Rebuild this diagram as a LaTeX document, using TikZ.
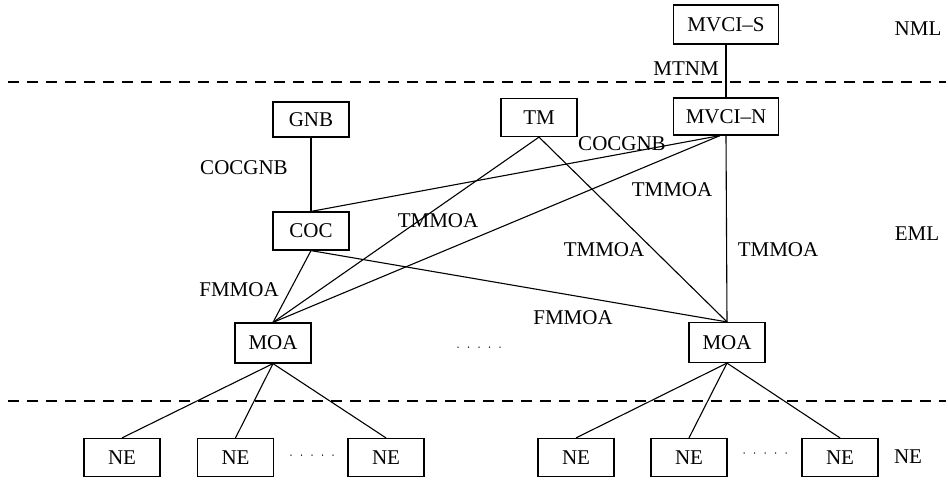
\documentclass[tikz,border=0pt]{standalone}
\usepackage{fontspec}
\setmainfont{Liberation Serif}
\begin{document}
\begin{tikzpicture}[x=1pt,y=-1pt,
  every node/.style={font=\fontsize{21}{24}\selectfont},
  box/.style={draw,line width=1.2pt,minimum width=76pt,minimum height=38pt,inner sep=2pt},
  widebox/.style={box,minimum width=105pt},
  link/.style={line width=1.1pt},
  layer/.style={line width=1.2pt,dash pattern=on 11pt off 8pt},
  dotsep/.style={line width=1.5pt,line cap=round,dash pattern=on 0pt off 10.5pt}]
\useasboundingbox (0,0) rectangle (948,480);

% layer boundaries
\coordinate (l1a) at (8,82);  \coordinate (l1b) at (946,82);
\coordinate (l2a) at (8,401); \coordinate (l2b) at (946,401);
\draw[layer] (l1a) -- (l1b);
\draw[layer] (l2a) -- (l2b);

% layer names
\node (nml) at (918,29) {NML};
\node (eml) at (917,234) {EML};
\node (nel) at (908,457) {NE};

% management nodes
\node[widebox,minimum height=39pt] (mvcis) at (726,24.5) {MVCI–S};
\node[widebox,minimum height=37pt] (mvcin) at (726,116.5) {MVCI–N};
\node[box] (tm) at (539,117.5) {TM};
\node[box,minimum height=35pt] (gnb) at (311,119.5) {GNB};
\node[box] (coc) at (311,231) {COC};
\node[box,minimum height=40pt] (moa1) at (273,343) {MOA};
\node[box,minimum height=40pt] (moa2) at (727,342.5) {MOA};

% network elements
\node[box] (ne1) at (122,457.5) {NE};
\node[box] (ne2) at (235.5,457.5) {NE};
\node[box] (ne3) at (386,457.5) {NE};
\node[box] (ne4) at (576,457.5) {NE};
\node[box] (ne5) at (689,457.5) {NE};
\node[box] (ne6) at (840,457.5) {NE};

% ellipses
\coordinate (d1a) at (458,347); \coordinate (d1b) at (501,347);
\coordinate (d2a) at (291,455); \coordinate (d2b) at (334,455);
\coordinate (d3a) at (744,453); \coordinate (d3b) at (787,453);
\draw[dotsep] (d1a) -- (d1b);
\draw[dotsep] (d2a) -- (d2b);
\draw[dotsep] (d3a) -- (d3b);

% interfaces
\draw[link] (mvcis) -- (mvcin);
\draw[link] (gnb) -- (coc);
\draw[link] (coc.north) -- ([xshift=-6pt]mvcin.south);
\draw[link] (tm.south) -- (moa1.north);
\draw[link] (tm.south) -- (moa2.north);
\draw[link] ([xshift=-6pt]mvcin.south) -- (moa1.north);
\draw[link] (mvcin.south) -- (moa2.north);
\draw[link] (coc.south) -- (moa1.north);
\draw[link] (coc.south) -- (moa2.north);
\foreach \n in {ne1,ne2,ne3} \draw[link] (moa1.south) -- (\n.north);
\foreach \n in {ne4,ne5,ne6} \draw[link] (moa2.south) -- (\n.north);

% interface labels
\node (mtnm) at (686,69) {MTNM};
\node (cg1) at (244,168) {COCGNB};
\node (cg2) at (622,144) {COCGNB};
\node (tma) at (438,221) {TMMOA};
\node (tmb) at (672,190) {TMMOA};
\node (tmc) at (604,250) {TMMOA};
\node (tmd) at (778,250) {TMMOA};
\node (fma) at (239,290) {FMMOA};
\node (fmb) at (573,318) {FMMOA};
\end{tikzpicture}
\end{document}
